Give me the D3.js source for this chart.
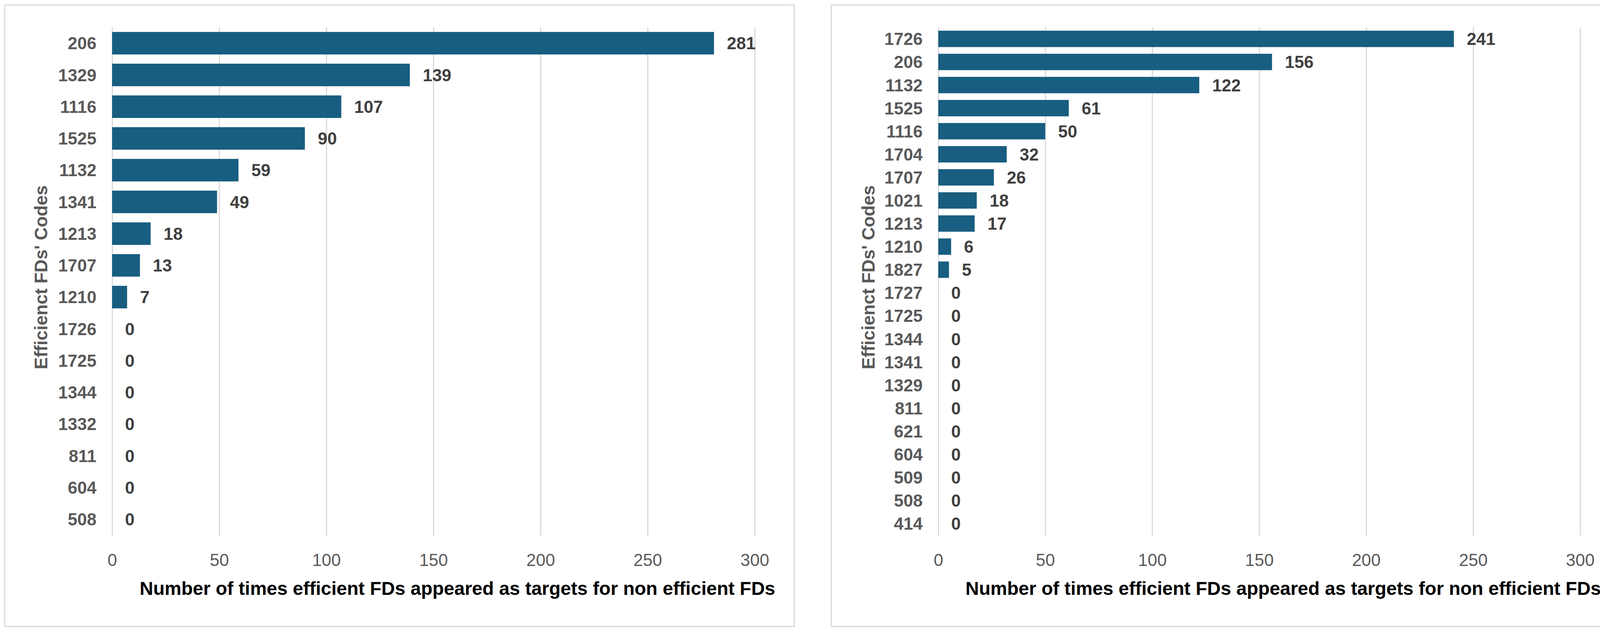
<!DOCTYPE html>
<html>
<head>
<meta charset="utf-8">
<script src="https://cdn.jsdelivr.net/npm/d3@7"></script>
<style>
  body { margin: 0; background: #fff; }
  text { font-family: "Liberation Sans", Arial, sans-serif; }
</style>
</head>
<body>
<svg id="chart"></svg>
<script>
let width = 4160, height = 1618;

// data
let leftCodes = ["206", "1329", "1116", "1525", "1132", "1341", "1213", "1707", "1210",
    "1726", "1725", "1344", "1332", "811", "604", "508"];
let leftCounts = [281, 139, 107, 90, 59, 49, 18, 13, 7, 0, 0, 0, 0, 0, 0, 0];

let rightCodes = ["1726", "206", "1132", "1525", "1116", "1704", "1707", "1021", "1213", "1210",
    "1827", "1727", "1725", "1344", "1341", "1329", "811", "621", "604", "509", "508", "414"];
let rightCounts = [241, 156, 122, 61, 50, 32, 26, 18, 17, 6, 5, 0, 0, 0, 0, 0, 0, 0, 0, 0, 0, 0];

let xTicks = [0, 50, 100, 150, 200, 250, 300];
let xTitle = "Number of times efficient FDs appeared as targets for non efficient FDs";
let yTitle = "Efficienct FDs' Codes";

let svg = d3.select("#chart")
    .attr("width", width)
    .attr("height", height);

function drawPanel(p, codes, counts) {
    let g = svg.append("g");

    // frame
    g.append("rect")
        .attr("x", p.left).attr("y", 13)
        .attr("width", p.right - p.left).attr("height", 1591)
        .attr("fill", "#fff")
        .attr("stroke", "#d9d9d9")
        .attr("stroke-width", 3);

    let x = d3.scaleLinear().domain([0, 300]).range([p.x0, p.x1]);
    let y = d3.scaleBand().domain(codes).range([70, 1370])
        .paddingInner(0.29).paddingOuter(0.145);

    // gridlines + tick labels
    let xAxis = g.append("g")
        .attr("transform", "translate(0,1372)")
        .call(d3.axisBottom(x).tickValues(xTicks).tickSize(-1302).tickPadding(46));
    xAxis.select(".domain").remove();
    xAxis.selectAll(".tick line").attr("stroke", "#d9d9d9").attr("stroke-width", 3);
    xAxis.selectAll(".tick text")
        .attr("fill", "#595959")
        .style("font-size", "44px")
        .style("font-family", "'Liberation Sans', Arial, sans-serif");

    // bars
    g.selectAll(".bar")
        .data(codes)
        .enter()
        .append("rect")
        .attr("class", "bar")
        .attr("x", x(0))
        .attr("y", d => y(d))
        .attr("width", (d, i) => x(counts[i]) - x(0))
        .attr("height", y.bandwidth())
        .attr("fill", "#185e80");

    // value labels
    g.selectAll(".val")
        .data(codes)
        .enter()
        .append("text")
        .attr("class", "val")
        .attr("x", (d, i) => x(counts[i]) + 33)
        .attr("y", d => y(d) + y.bandwidth() / 2)
        .attr("dy", "0.36em")
        .attr("fill", "#404040")
        .style("font-size", "44px")
        .style("font-weight", "bold")
        .text((d, i) => counts[i]);

    // category labels
    g.selectAll(".cat")
        .data(codes)
        .enter()
        .append("text")
        .attr("class", "cat")
        .attr("x", x(0) - 40)
        .attr("y", d => y(d) + y.bandwidth() / 2)
        .attr("dy", "0.36em")
        .attr("text-anchor", "end")
        .attr("fill", "#595959")
        .style("font-size", "44px")
        .style("font-weight", "bold")
        .text(d => d);

    // axis titles
    g.append("text")
        .attr("x", p.titleX)
        .attr("y", 1523)
        .attr("text-anchor", "middle")
        .attr("fill", "#000")
        .style("font-size", "48px")
        .style("font-weight", "bold")
        .text(xTitle);

    g.append("text")
        .attr("transform", "translate(" + p.yTitleX + ",710) rotate(-90)")
        .attr("text-anchor", "middle")
        .attr("dy", "0.36em")
        .attr("fill", "#595959")
        .style("font-size", "46px")
        .style("font-weight", "bold")
        .text(yTitle);
}

drawPanel({ left: 12, right: 2033, x0: 287, x1: 1932, titleX: 1171, yTitleX: 104 }, leftCodes, leftCounts);
drawPanel({ left: 2128, right: 4146, x0: 2402, x1: 4045, titleX: 3285, yTitleX: 2222 }, rightCodes, rightCounts);
</script>
</body>
</html>
